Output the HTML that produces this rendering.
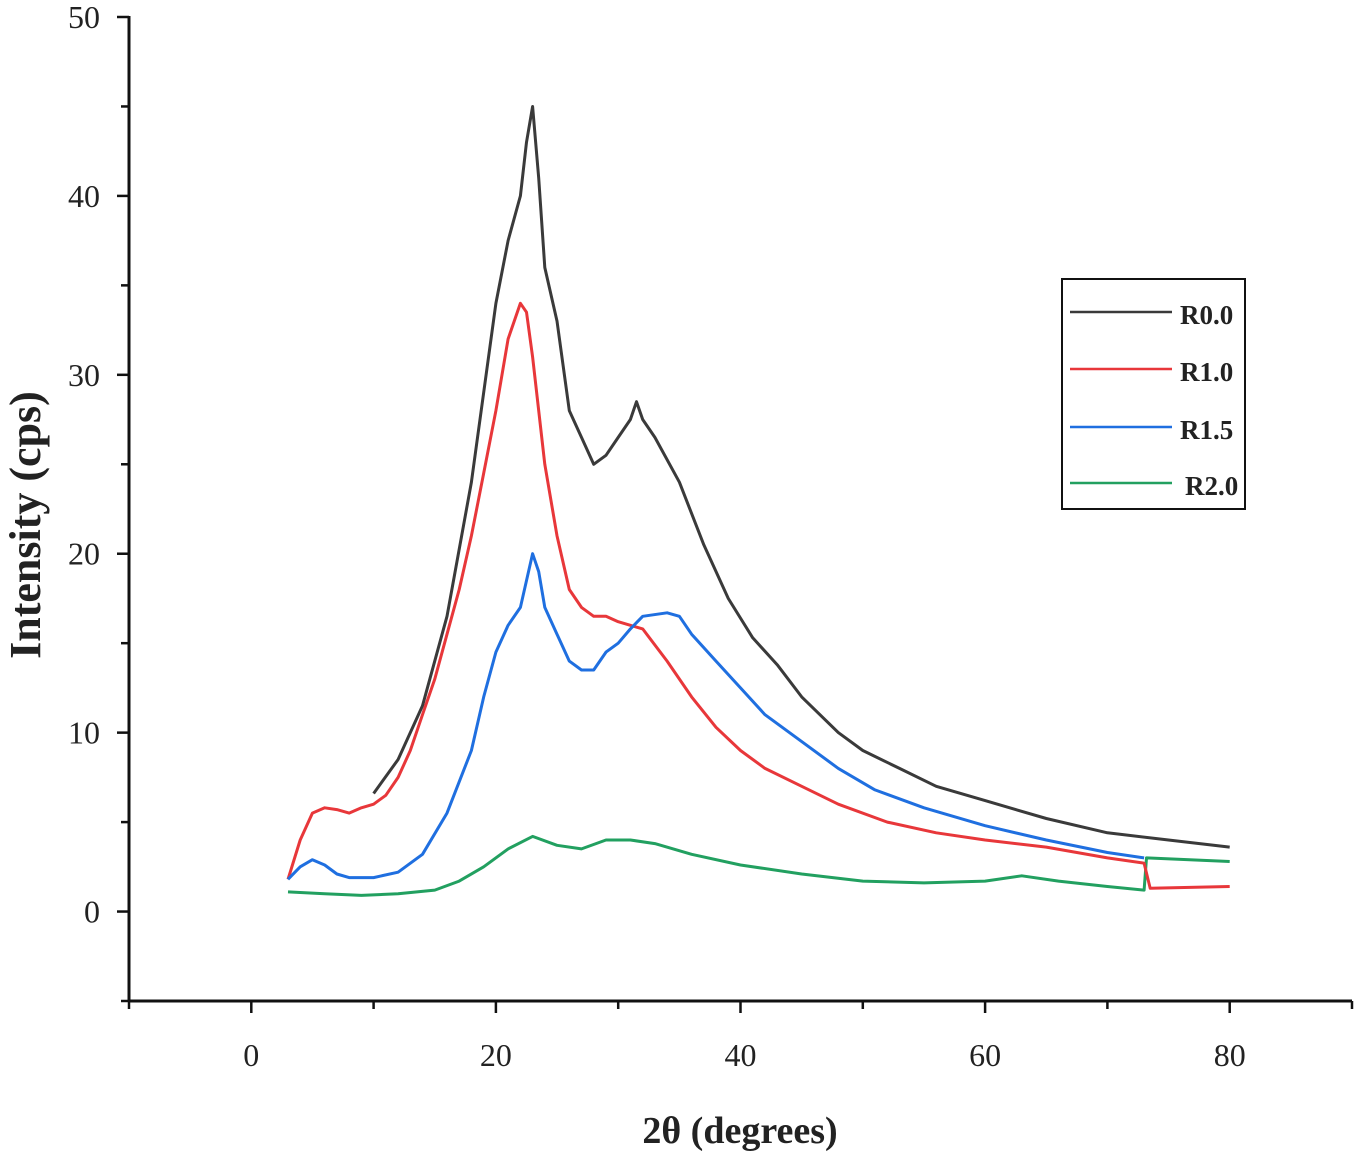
<!DOCTYPE html>
<html><head><meta charset="utf-8"><style>
body{margin:0;background:#fff}
svg{display:block}
text{font-family:"Liberation Serif",serif;fill:#222}
</style></head><body>
<svg id="chart" width="1359" height="1157" xmlns="http://www.w3.org/2000/svg">
<g id="axes"></g>
<g id="series"></g>
<g id="legend"></g>
<text x="740" y="1143" text-anchor="middle" font-size="38" font-weight="bold">2θ (degrees)</text>
<text transform="translate(40,525) rotate(-90)" text-anchor="middle" font-size="44" font-weight="bold">Intensity (cps)</text>
</svg>
<script>
const xTicks=[0,20,40,60,80];
const yTicks=[0,10,20,30,40,50];
const seriesNames=["R0.0","R1.0","R1.5","R2.0"];
const seriesColors=["#3a3a3a","#e8373a","#1f6fe0","#22a060"];
const r00x=[10,12,14,16,18,20,21,22,22.5,23,23.5,24,25,26,27,28,29,30,31,31.5,32,33,35,37,39,41,43,45,48,50,53,56,60,65,70,75,80];
const r00y=[6.6,8.5,11.5,16.5,24,34,37.5,40,43,45,41,36,33,28,26.5,25,25.5,26.5,27.5,28.5,27.5,26.5,24,20.5,17.5,15.3,13.8,12,10,9,8,7,6.2,5.2,4.4,4,3.6];
const r10x=[3,4,5,6,7,8,9,10,11,12,13,14,15,16,17,18,19,20,21,22,22.5,23,24,25,26,27,28,29,30,31,32,34,36,38,40,42,45,48,52,56,60,65,70,73,73.5,80];
const r10y=[1.8,4,5.5,5.8,5.7,5.5,5.8,6,6.5,7.5,9,11,13,15.5,18,21,24.5,28,32,34,33.5,31,25,21,18,17,16.5,16.5,16.2,16,15.8,14,12,10.3,9,8,7,6,5,4.4,4,3.6,3,2.7,1.3,1.4];
const r15x=[3,4,5,6,7,8,10,12,14,16,18,19,20,21,22,22.5,23,23.5,24,25,26,27,28,29,30,31,32,34,35,36,38,40,42,45,48,51,55,60,65,70,73];
const r15y=[1.8,2.5,2.9,2.6,2.1,1.9,1.9,2.2,3.2,5.5,9,12,14.5,16,17,18.5,20,19,17,15.5,14,13.5,13.5,14.5,15,15.8,16.5,16.7,16.5,15.5,14,12.5,11,9.5,8,6.8,5.8,4.8,4,3.3,3];
const r20x=[3,6,9,12,15,17,19,21,23,25,27,29,31,33,36,40,45,50,55,60,63,66,70,73,73.2,80];
const r20y=[1.1,1,0.9,1,1.2,1.7,2.5,3.5,4.2,3.7,3.5,4,4,3.8,3.2,2.6,2.1,1.7,1.6,1.7,2,1.7,1.4,1.2,3,2.8];
const allX=[r00x,r10x,r15x,r20x], allY=[r00y,r10y,r15y,r20y];

const NS="http://www.w3.org/2000/svg";
const X0=-10,X1=90,PX0=129,PX1=1352, Y0=-5,Y1=50,PY0=1001,PY1=17;
const sx=v=>PX0+(v-X0)/(X1-X0)*(PX1-PX0);
const sy=v=>PY0-(v-Y0)/(Y1-Y0)*(PY0-PY1);
function mk(t,a,p){const e=document.createElementNS(NS,t);for(const k in a)e.setAttribute(k,a[k]);p.appendChild(e);return e;}
const ax=document.getElementById('axes');
let l=mk('line',{x1:PX0,y1:PY1-1,x2:PX0,y2:PY0+1,stroke:'#111','stroke-width':3},ax);


l=mk('line',{x1:PX0-1,y1:PY0,x2:PX1,y2:PY0,stroke:'#111','stroke-width':3},ax);


for(let v=-10;v<=90;v+=10){const t=mk('line',{x1:sx(v),y1:PY0,x2:sx(v),y2:PY0+(v%20===0?12:8),stroke:'#111','stroke-width':2.5},ax);

}
for(let v=-5;v<=50;v+=5){const t=mk('line',{x1:PX0,y1:sy(v),x2:PX0-(v%10===0?12:8),y2:sy(v),stroke:'#111','stroke-width':2.5},ax);

}
xTicks.forEach(v=>{const t=mk('text',{x:sx(v),y:1066,'text-anchor':'middle','font-size':32},ax);t.textContent=v;

});
yTicks.forEach(v=>{const t=mk('text',{x:100,y:sy(v)+11,'text-anchor':'end','font-size':32},ax);t.textContent=v;

});
const sg=document.getElementById('series');
[3,0,1,2].forEach(i=>{const d=allX[i].map((x,j)=>(j?'L':'M')+sx(x).toFixed(1)+','+sy(allY[i][j]).toFixed(1)).join('');
const p=mk('path',{d:d,fill:'none',stroke:seriesColors[i],'stroke-width':3,'stroke-linejoin':'round'},sg);

});
const lg=document.getElementById('legend');
const box=mk('rect',{x:1062,y:279,width:183,height:230,fill:'#fff',stroke:'#111','stroke-width':2},lg);


const ly=[312,369,427,483];
seriesNames.forEach((n,i)=>{const ln=mk('line',{x1:1070,y1:ly[i],x2:1172,y2:ly[i],stroke:seriesColors[i],'stroke-width':2.5},lg);


const t=mk('text',{x:i==3?1185:1180,y:ly[i]+12,'font-size':27,'font-weight':'bold'},lg);t.textContent=n;

});
</script>
</body></html>
